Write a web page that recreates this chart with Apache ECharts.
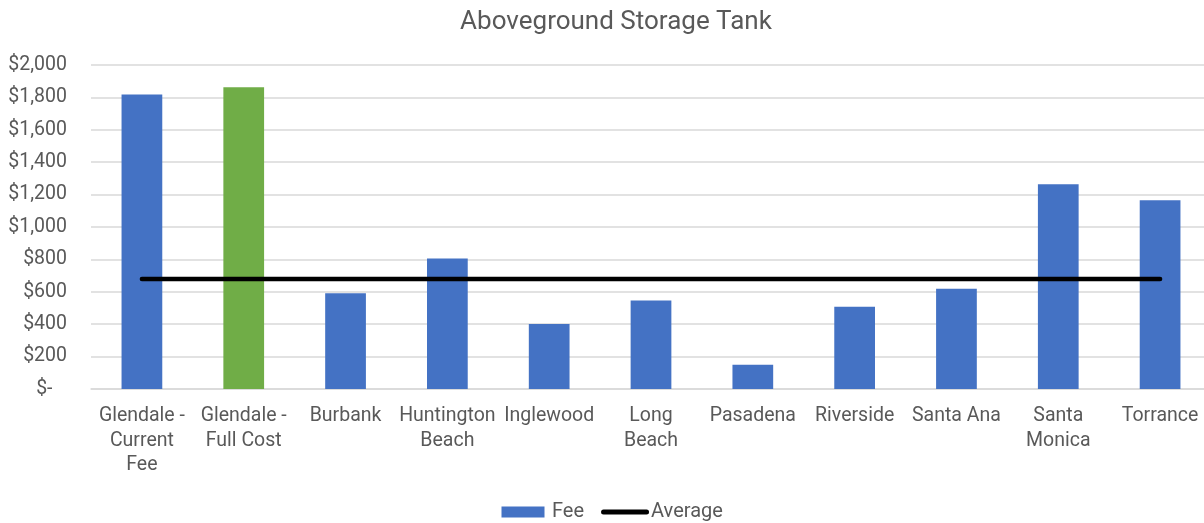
<!DOCTYPE html>
<html>
<head>
<meta charset="utf-8">
<script src="https://cdn.jsdelivr.net/npm/echarts@6/dist/echarts.min.js"></script>
<style>
  html, body { margin: 0; padding: 0; background: #fff; overflow: hidden; }
  /* the plot runs slightly past the right edge of the view */
  #chart { width: 1216px; height: 523px; }
</style>
</head>
<body>
<div id="chart"></div>
<script>
// Permit fee per city for an aboveground storage tank
const categories = [
  'Glendale -\nCurrent\nFee', 'Glendale -\nFull Cost', 'Burbank', 'Huntington\nBeach',
  'Inglewood', 'Long\nBeach', 'Pasadena', 'Riverside', 'Santa Ana', 'Santa\nMonica', 'Torrance'
];
const feeValues = [1818, 1862, 591, 805, 402, 546, 149, 507, 619, 1264, 1165];
const averageFee = 679;
const averageValues = categories.map(() => averageFee);
const yTicks = { min: 0, max: 2000, interval: 200 };

const BLUE = '#4472C4';
const GREEN = '#70AD47';
const TEXT = '#595959';
const GRID = '#d9d9d9';
const FONT = 'Roboto, "Noto Sans", sans-serif';

function money(v) {
  if (v === 0) return '$-   ';
  return '$' + v.toLocaleString('en-US');
}

const chart = echarts.init(document.getElementById('chart'), null, { renderer: 'canvas' });
chart.setOption({
  animation: false,
  backgroundColor: '#fff',
  textStyle: { fontFamily: FONT },
  title: {
    text: 'Aboveground Storage Tank',
    left: 611,
    textAlign: 'center',
    top: 4,
    textStyle: { fontFamily: FONT, fontSize: 26, fontWeight: 'normal', color: TEXT }
  },
  legend: {
    top: 502,
    left: 501.5,
    padding: 0,
    itemWidth: 48,
    itemHeight: 11,
    itemGap: 17,
    textStyle: { fontFamily: FONT, fontSize: 20, color: TEXT },
    data: [
      { name: 'Fee', icon: 'path://M0,0 L43,0 L43,11 L0,11 Z' },
      {
        name: 'Average',
        icon: 'path://M2.5,0 L45.5,0 A2.5,2.5 0 0 1 45.5,5 L2.5,5 A2.5,2.5 0 0 1 2.5,0 Z',
        textStyle: { padding: [0, 0, 0, -3] }
      }
    ]
  },
  grid: { left: 91, top: 65, width: 1120, height: 324, containLabel: false },
  xAxis: {
    type: 'category',
    data: categories,
    boundaryGap: true,
    axisLine: { lineStyle: { color: GRID, width: 1.5 } },
    axisTick: { show: false },
    axisLabel: {
      interval: 0,
      margin: 15,
      fontFamily: FONT,
      fontSize: 19.5,
      lineHeight: 24.5,
      color: TEXT
    }
  },
  yAxis: {
    type: 'value',
    min: yTicks.min,
    max: yTicks.max,
    interval: yTicks.interval,
    axisLine: { show: false },
    axisTick: { show: false },
    splitLine: { lineStyle: { color: GRID, width: 1.5 } },
    axisLabel: {
      formatter: money,
      margin: 24,
      fontFamily: FONT,
      fontSize: 19.5,
      color: TEXT
    }
  },
  series: [
    {
      name: 'Fee',
      type: 'bar',
      barWidth: '40%',
      itemStyle: { color: BLUE },
      data: feeValues.map((v, i) => ({
        value: v,
        itemStyle: { color: i === 1 ? GREEN : BLUE }
      }))
    },
    {
      name: 'Average',
      type: 'line',
      symbol: 'none',
      color: '#000',
      itemStyle: { color: '#000' },
      lineStyle: { color: '#000', width: 4.5, cap: 'round' },
      data: averageValues,
      z: 3
    }
  ]
});
</script>
</body>
</html>
